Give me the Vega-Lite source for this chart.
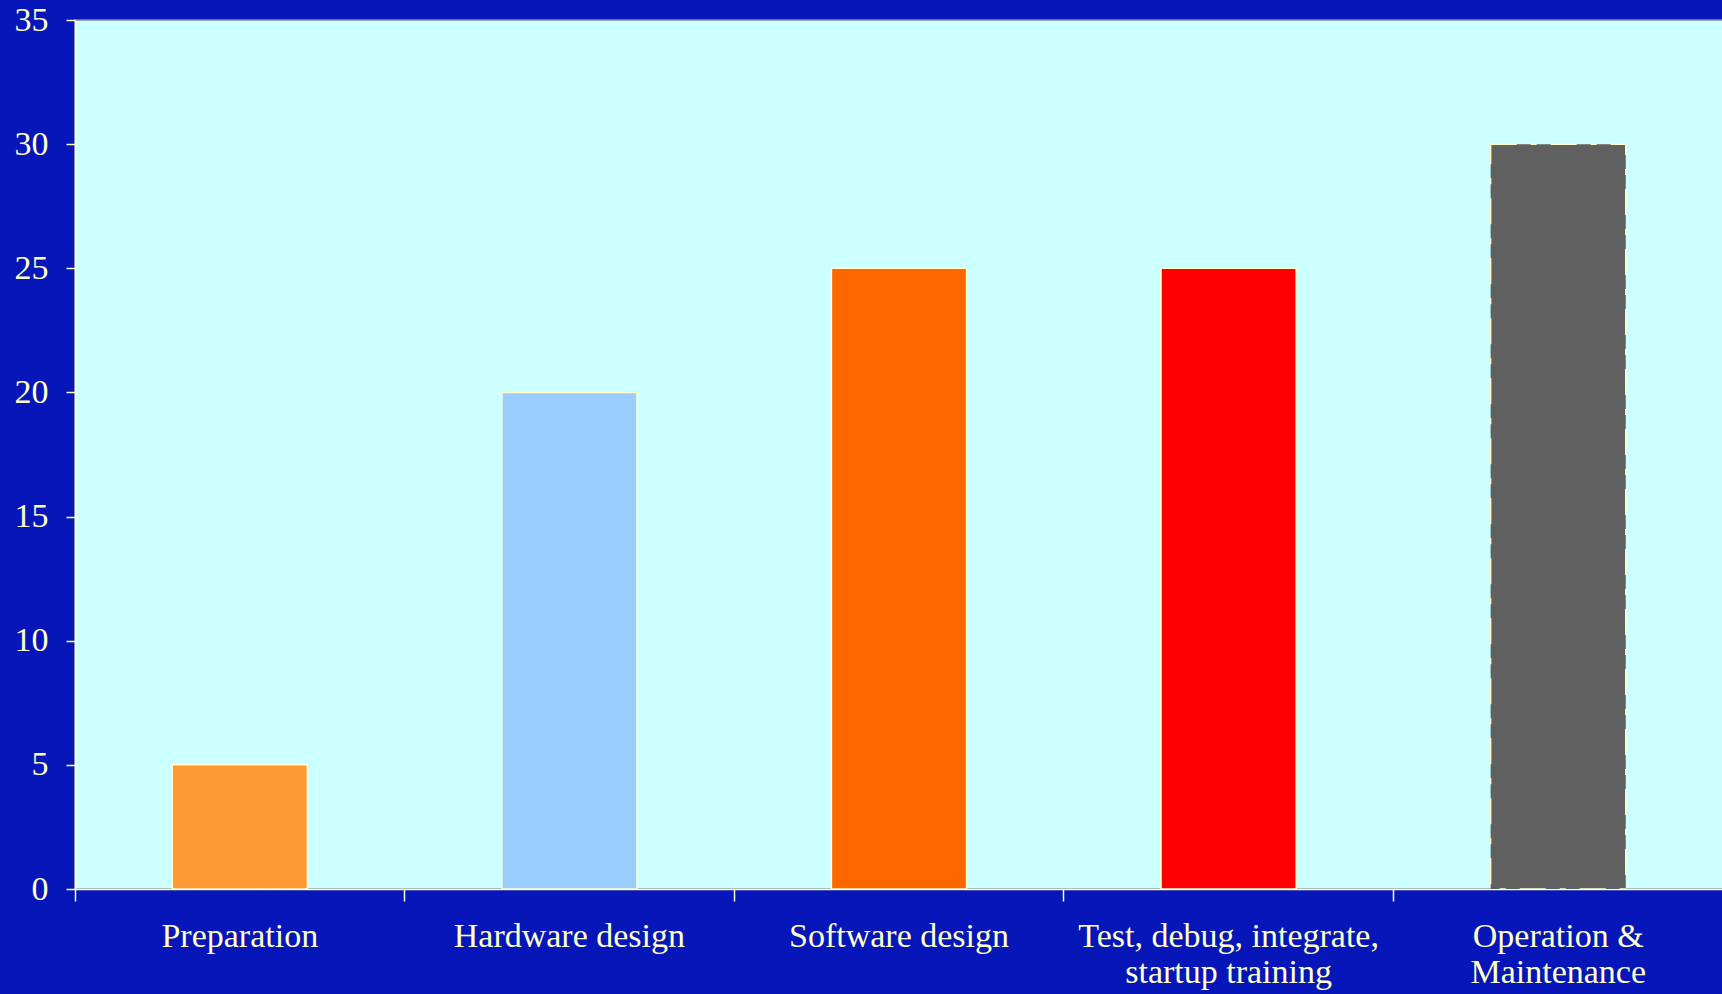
{
  "$schema": "https://vega.github.io/schema/vega-lite/v6.json",
  "autosize": {"type": "none"},
  "width": 1648,
  "height": 869,
  "padding": {"left": 75, "top": 20, "right": 0, "bottom": 105},
  "background": "#0616B8",
  "config": {
    "view": {"fill": "#CCFFFF", "stroke": "#8A8A8A", "strokeWidth": 1.5},
    "font": "Liberation Serif"
  },
  "data": {
    "values": [
      {"phase": "Preparation", "value": 5},
      {"phase": "Hardware design", "value": 20},
      {"phase": "Software design", "value": 25},
      {"phase": "Test, debug, integrate, startup training", "value": 25},
      {"phase": "Operation & Maintenance", "value": 30}
    ]
  },
  "mark": {"type": "bar", "width": {"band": 0.41}, "stroke": "#FFFFCC", "strokeWidth": 1.5, "cornerRadius": 0},
  "encoding": {
    "x": {
      "field": "phase",
      "type": "nominal",
      "sort": null,
      "scale": {"paddingInner": 0, "paddingOuter": 0},
      "axis": {
        "title": null,
        "labelAngle": 0,
        "labelColor": "#FFFFCC",
        "labelFont": "Liberation Serif",
        "labelFontSize": 34,
        "labelPadding": 18,
        "labelLimit": 400,
        "labelLineHeight": 36,
        "labelExpr": "datum.value == 'Test, debug, integrate, startup training' ? ['Test, debug, integrate,', 'startup training'] : datum.value == 'Operation & Maintenance' ? ['Operation &', 'Maintenance'] : datum.value",
        "bandPosition": 0,
        "tickColor": "#FFFFCC",
        "tickSize": 12,
        "tickWidth": 1.5,
        "domainColor": "#FFFFCC",
        "domainWidth": 1.5,
        "grid": false
      }
    },
    "y": {
      "field": "value",
      "type": "quantitative",
      "scale": {"domain": [0, 35], "nice": false},
      "axis": {
        "title": null,
        "values": [0, 5, 10, 15, 20, 25, 30, 35],
        "labelColor": "#FFFFCC",
        "labelFont": "Liberation Serif",
        "labelFontSize": 34,
        "labelPadding": 18,
        "tickColor": "#FFFFCC",
        "tickSize": 9,
        "tickWidth": 1.5,
        "domainColor": "#FFFFCC",
        "domainWidth": 1.5,
        "grid": false
      }
    },
    "color": {
      "field": "phase",
      "type": "nominal",
      "sort": null,
      "scale": {
        "domain": ["Preparation", "Hardware design", "Software design", "Test, debug, integrate, startup training", "Operation & Maintenance"],
        "range": ["#FF9933", "#99CCFF", "#FF6600", "#FF0000", "#606060"]
      },
      "legend": null
    },
    "strokeDash": {
      "field": "phase",
      "type": "nominal",
      "sort": null,
      "scale": {
        "domain": ["Preparation", "Hardware design", "Software design", "Test, debug, integrate, startup training", "Operation & Maintenance"],
        "range": [[1, 0], [1, 0], [1, 0], [1, 0], [26, 14, 6, 14]]
      },
      "legend": null
    }
  }
}
